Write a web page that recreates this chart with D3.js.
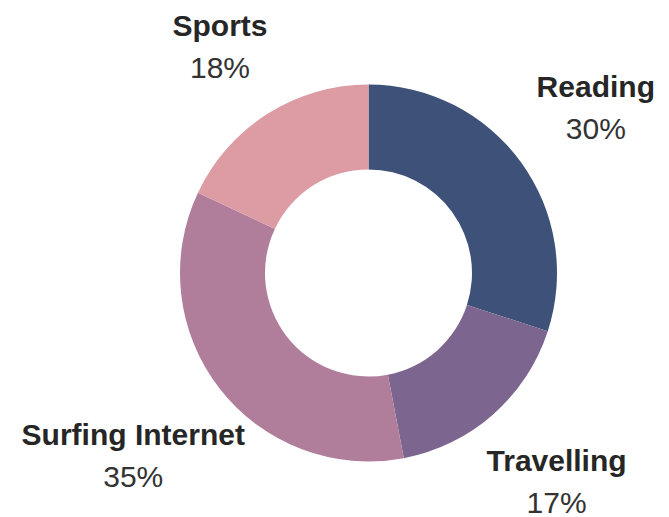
<!DOCTYPE html>
<html><head><meta charset="utf-8">
<script src="https://cdn.jsdelivr.net/npm/d3@7"></script>
<style>html,body{margin:0;padding:0;background:#fff;}</style>
</head><body>
<svg id="chart" width="669" height="517"></svg>
<script>
const categories = ["Reading", "Travelling", "Surfing Internet", "Sports"];
const values = [30, 17, 35, 18];
const colors = ["#3e5279", "#7c668f", "#b07e9b", "#dd9ba4"];

const W = 669, H = 517;
const cx = 368.5, cy = 273, rOuter = 188.5, rInner = 103.5;
const svg = d3.select("#chart");
const g = svg.append("g").attr("transform", `translate(${cx},${cy})`);

const data = categories.map((c, i) => ({name: c, value: values[i], color: colors[i]}));
const pie = d3.pie().value(d => d.value).sort(null);
const arc = d3.arc().innerRadius(rInner).outerRadius(rOuter);
const arcs = pie(data);

g.selectAll("path").data(arcs).join("path")
  .attr("d", arc).attr("fill", d => d.data.color);

const total = d3.sum(values);
const font = "'Liberation Sans', Arial, sans-serif";
const lab = g.selectAll("g.lab").data(arcs).join("g").attr("class", "lab");
lab.append("text").attr("class", "nm").attr("text-anchor", "middle").attr("y", -10.5)
  .style("font-family", font)
  .style("font-weight", "bold").style("font-size", "30px").attr("fill", "#262626")
  .text(d => d.data.name);
lab.append("text").attr("text-anchor", "middle").attr("y", 31.5)
  .style("font-family", font)
  .style("font-size", "30px").attr("fill", "#333333")
  .text(d => Math.round(d.data.value / total * 100) + "%");

lab.attr("transform", function(d) {
  const w = this.querySelector(".nm").getComputedTextLength();
  const r = 262 + 0.16 * w;
  const a = (d.startAngle + d.endAngle) / 2;
  let x = Math.sin(a) * r, y = -Math.cos(a) * r;
  y = Math.max(y, 46.5 - cy);
  y = Math.min(y, 481 - cy);
  return `translate(${x},${y})`;
});
</script>
</body></html>
